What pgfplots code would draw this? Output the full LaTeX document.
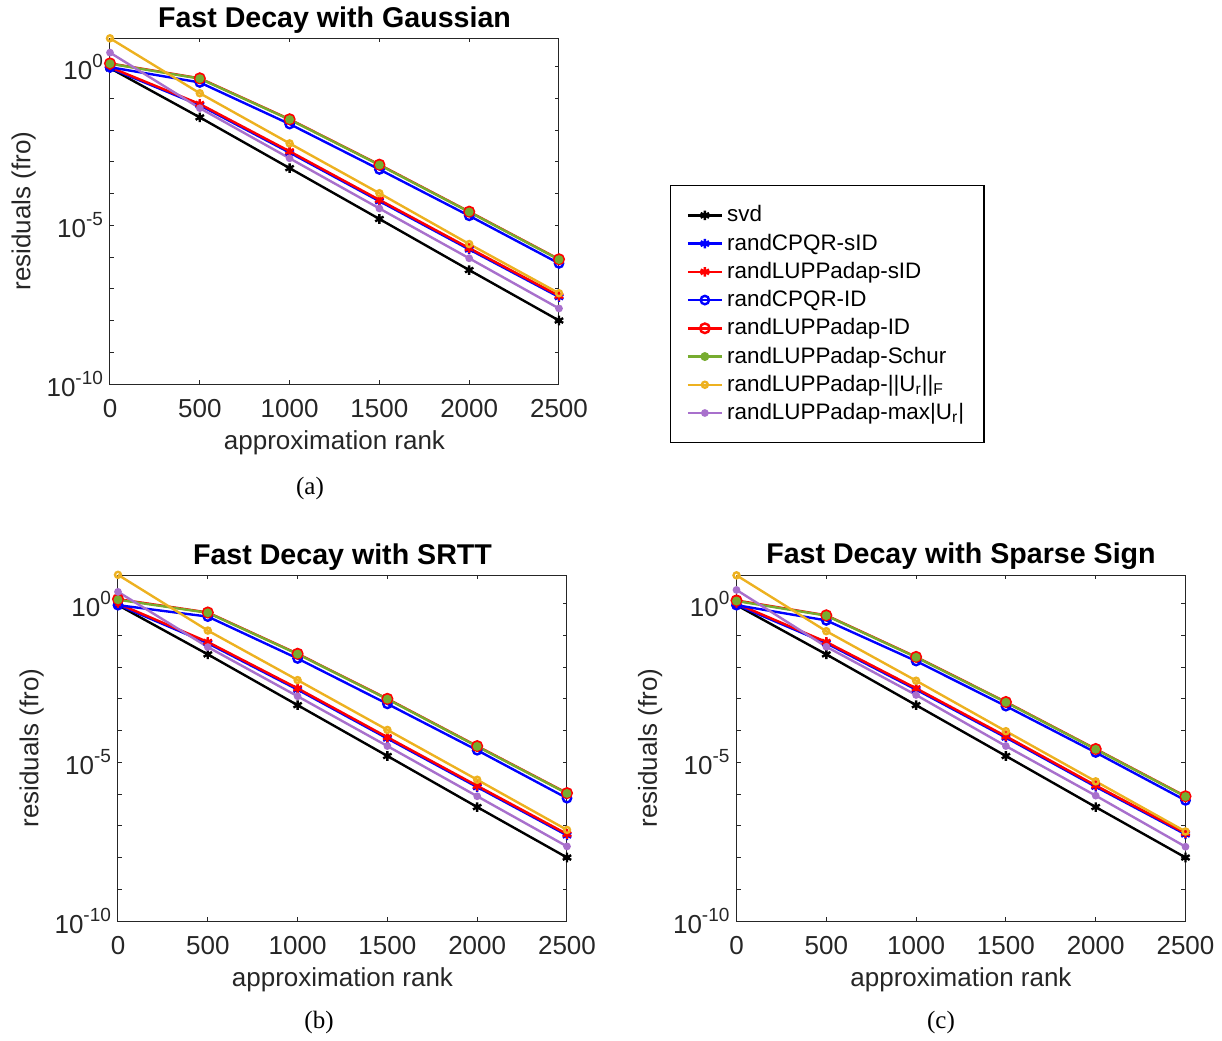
\documentclass[border=0pt]{standalone}
\usepackage{fontspec}
\setmainfont{Liberation Sans}
\newfontfamily\capfont{Liberation Serif}
\usepackage{pgfplots}
\usepackage{pgfplotstable}
\pgfplotsset{compat=1.18}

\definecolor{mgreen}{RGB}{119,172,48}
\definecolor{morange}{RGB}{237,177,32}
\definecolor{mpurple}{RGB}{168,112,204}
\definecolor{maxis}{RGB}{38,38,38}

% MATLAB-style power-of-ten label
\newcommand{\ep}[1]{10\raisebox{6pt}{\fontsize{9.5}{10}\selectfont #1}}

% residuals vs rank, one table per sketch
\pgfplotstableread{
x    svd     cpqrs   lupps   cpqr     lupp    schur   fro      maxu
0    0.891   0.891   0.955   0.955    1.259   1.230   7.76     2.75
500  2.51e-2 6.03e-2 6.61e-2 0.316    0.427   0.417   0.1445   4.90e-2
1000 6.31e-4 1.95e-3 2.14e-3 1.549e-2 2.19e-2 2.14e-2 3.80e-3  1.288e-3
1500 1.58e-5 5.75e-5 6.31e-5 5.75e-4  8.13e-4 7.94e-4 1.023e-4 3.39e-5
2000 3.89e-7 1.74e-6 1.91e-6 1.995e-5 2.69e-5 2.63e-5 2.57e-6  9.12e-7
2500 1.0e-8  5.50e-8 6.03e-8 6.31e-7  8.51e-7 8.32e-7 7.24e-8  2.40e-8
}\gauss

\pgfplotstableread{
x    svd     cpqrs   lupps   cpqr     lupp     schur    fro      maxu
0    0.891   0.912   1.0     0.891    1.380    1.318    8.04     2.34
500  2.51e-2 5.62e-2 6.17e-2 0.389    0.525    0.513    0.1413   4.27e-2
1000 6.31e-4 1.95e-3 2.14e-3 1.862e-2 2.63e-2  2.57e-2  3.89e-3  1.20e-3
1500 1.58e-5 5.62e-5 6.17e-5 6.92e-4  1.0e-3   9.77e-4  1.047e-4 3.24e-5
2000 3.89e-7 1.66e-6 1.82e-6 2.40e-5  3.24e-5  3.16e-5  2.82e-6  8.51e-7
2500 1.0e-8  5.01e-8 5.50e-8 7.41e-7  1.072e-6 1.047e-6 7.41e-8  2.24e-8
}\srtt

\pgfplotstableread{
x    svd     cpqrs   lupps    cpqr     lupp    schur   fro      maxu
0    0.891   0.912   1.0      0.891    1.259   1.202   7.76     2.69
500  2.51e-2 5.62e-2 6.17e-2  0.295    0.427   0.417   0.1349   4.37e-2
1000 6.31e-4 1.95e-3 2.14e-3  1.549e-2 2.09e-2 2.04e-2 3.72e-3  1.318e-3
1500 1.58e-5 6.03e-5 6.61e-5  5.89e-4  7.94e-4 7.76e-4 9.55e-5  3.24e-5
2000 3.89e-7 1.70e-6 1.862e-6 2.04e-5  2.63e-5 2.57e-5 2.51e-6  8.91e-7
2500 1.0e-8  5.37e-8 5.89e-8  6.31e-7  8.51e-7 8.32e-7 6.61e-8  2.19e-8
}\sparse

\pgfplotsset{
  every axis/.append style={
    scale only axis, width=224.5pt, height=173pt,
    clip=false,
    tick align=inside,
    major tick length=2.2pt, minor tick length=2.2pt,
    axis line style={maxis, line width=0.5pt},
    every tick/.style={maxis, line width=0.5pt},
    every minor tick/.style={maxis, line width=0.5pt},
    tick label style={font=\fontsize{13}{15}\selectfont, text=maxis},
    xticklabel style={yshift=-4pt},
    label style={font=\fontsize{13}{15}\selectfont, text=maxis},
    title style={font=\bfseries\fontsize{14.3}{16}\selectfont, yshift=-7pt},
    xlabel style={yshift=0.5pt},
    ylabel style={yshift=-1.5pt},
  },
  every axis plot/.append style={line width=1.2pt},
}

\newcommand{\residplots}[1]{%
  \addplot[black, mark=asterisk, mark size=2.4pt] table[y=svd]{#1};
  \addplot[blue, mark=asterisk, mark size=2.4pt] table[y=cpqrs]{#1};
  \addplot[red, mark=asterisk, mark size=2.4pt] table[y=lupps]{#1};
  \addplot[blue, mark=o, mark size=2.1pt] table[y=cpqr]{#1};
  \addplot[red, mark=o, mark size=2.4pt] table[y=lupp]{#1};
  \addplot[mgreen, mark=*, mark size=1.6pt] table[y=schur]{#1};
  \addplot[morange, mark=o, mark size=1.5pt] table[y=fro]{#1};
  \addplot[mpurple, mark=*, mark size=1.3pt] table[y=maxu]{#1};
}

\begin{document}
\begin{tikzpicture}
\useasboundingbox (0,0) rectangle (611pt,-520pt);

\begin{axis}[at={(55pt,-192pt)}, anchor=south west,
  ymode=log, xmin=0, xmax=2500, ymin=1e-10, ymax=7.94,
  xtick={0,500,1000,1500,2000,2500},
  xticklabels={0,500,1000,1500,2000,2500},
  ytick={1e-10,1e-5,1},
  minor ytick={1e-9,1e-8,1e-7,1e-6,1e-4,1e-3,1e-2,1e-1},
  yticklabels={\ep{-10},\ep{-5},\ep{0}},
  xlabel={approximation rank}, ylabel={residuals (fro)},
  title={Fast Decay with Gaussian},
  legend style={at={(1.247,0.575)}, anchor=north west, draw=black,
    line width=0.7pt, font=\fontsize{11.2}{13}\selectfont,
    inner xsep=8pt, inner ysep=8pt, row sep=0.5pt},
  legend cell align=left,
  legend entries={svd, randCPQR-sID, randLUPPadap-sID, randCPQR-ID,
    randLUPPadap-ID, randLUPPadap-Schur,
    randLUPPadap-||U\textsubscript{r}||\textsubscript{F},
    randLUPPadap-max|U\textsubscript{r}|},
]
\residplots{\gauss}
\end{axis}

\begin{axis}[at={(59pt,-460.5pt)}, anchor=south west,
  ymode=log, xmin=0, xmax=2500, ymin=1e-10, ymax=7.94,
  xtick={0,500,1000,1500,2000,2500},
  xticklabels={0,500,1000,1500,2000,2500},
  ytick={1e-10,1e-5,1},
  minor ytick={1e-9,1e-8,1e-7,1e-6,1e-4,1e-3,1e-2,1e-1},
  yticklabels={\ep{-10},\ep{-5},\ep{0}},
  xlabel={approximation rank}, ylabel={residuals (fro)},
  title={Fast Decay with SRTT}]
\residplots{\srtt}
\end{axis}

\begin{axis}[at={(368.25pt,-460.5pt)}, anchor=south west,
  ymode=log, xmin=0, xmax=2500, ymin=1e-10, ymax=7.94,
  xtick={0,500,1000,1500,2000,2500},
  xticklabels={0,500,1000,1500,2000,2500},
  ytick={1e-10,1e-5,1},
  minor ytick={1e-9,1e-8,1e-7,1e-6,1e-4,1e-3,1e-2,1e-1},
  yticklabels={\ep{-10},\ep{-5},\ep{0}},
  xlabel={approximation rank}, ylabel={residuals (fro)},
  title={Fast Decay with Sparse Sign}]
\residplots{\sparse}
\end{axis}

\node[font=\capfont\fontsize{12.5}{14}\selectfont] at (155pt,-244pt) {(a)};
\node[font=\capfont\fontsize{12.5}{14}\selectfont] at (159.5pt,-511pt) {(b)};
\node[font=\capfont\fontsize{12.5}{14}\selectfont] at (470.5pt,-511pt) {(c)};
\end{tikzpicture}
\end{document}
